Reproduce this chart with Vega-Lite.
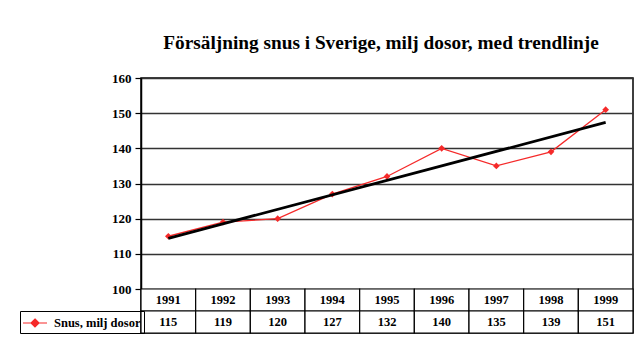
{
  "$schema": "https://vega.github.io/schema/vega-lite/v6.json",
  "width": 492,
  "height": 255,
  "autosize": {"type": "none"},
  "padding": {"left": 141, "top": 78, "right": 7, "bottom": 28},
  "background": "white",
  "title": {
    "text": "Försäljning snus i Sverige, milj dosor, med trendlinje",
    "font": "Liberation Serif",
    "fontSize": 19.3,
    "fontWeight": "bold",
    "color": "black",
    "anchor": "middle",
    "dx": -6,
    "offset": 19
  },
  "data": {
    "values": [
      {"year": 1991, "value": 115, "series": "Snus, milj dosor"},
      {"year": 1992, "value": 119, "series": "Snus, milj dosor"},
      {"year": 1993, "value": 120, "series": "Snus, milj dosor"},
      {"year": 1994, "value": 127, "series": "Snus, milj dosor"},
      {"year": 1995, "value": 132, "series": "Snus, milj dosor"},
      {"year": 1996, "value": 140, "series": "Snus, milj dosor"},
      {"year": 1997, "value": 135, "series": "Snus, milj dosor"},
      {"year": 1998, "value": 139, "series": "Snus, milj dosor"},
      {"year": 1999, "value": 151, "series": "Snus, milj dosor"}
    ]
  },
  "layer": [
    {
      "encoding": {
        "x": {"field": "year", "type": "quantitative", "scale": {"domain": [1990.5, 1999.5], "nice": false, "zero": false}, "axis": null},
        "y": {
          "field": "value", "type": "quantitative",
          "scale": {"domain": [100, 160], "range": [211, 0], "nice": false, "zero": false},
          "axis": {
            "values": [100, 110, 120, 130, 140, 150, 160],
            "title": null,
            "labelFont": "Liberation Serif", "labelFontSize": 13, "labelFontWeight": "bold", "labelColor": "black",
            "labelPadding": 4, "tickSize": 6, "tickColor": "black", "tickWidth": 1.2,
            "domainColor": "black", "domainWidth": 1.5,
            "grid": true, "gridColor": "#333", "gridWidth": 1.5
          }
        }
      },
      "layer": [
        {
          "mark": {"type": "line", "strokeWidth": 1.3, "point": {"shape": "diamond", "filled": true, "size": 45}},
          "encoding": {
            "color": {
              "field": "series", "type": "nominal",
              "scale": {"range": ["#f52a2a"]},
              "legend": {
                "orient": "none", "legendX": -121, "legendY": 233,
                "title": null, "padding": 3, "strokeColor": "black",
                "symbolType": "M-1.5,0L1.5,0M0,-0.5L0.5,0L0,0.5L-0.5,0Z",
                "symbolSize": 256, "symbolStrokeWidth": 1.2,
                "symbolFillColor": "#f52a2a", "symbolStrokeColor": "#f52a2a",
                "symbolOffset": 3, "labelOffset": 10,
                "labelFont": "Liberation Serif", "labelFontSize": 12.5, "labelFontWeight": "bold", "labelColor": "black"
              }
            }
          }
        },
        {
          "transform": [{"regression": "value", "on": "year"}],
          "mark": {"type": "line", "color": "black", "strokeWidth": 2.8}
        }
      ]
    },
    {
      "transform": [{"fold": ["year", "value"], "as": ["row", "cell"]}],
      "encoding": {
        "x": {"field": "year", "type": "ordinal", "scale": {"paddingInner": 0, "paddingOuter": 0}, "axis": null},
        "y": {"field": "row", "type": "nominal", "scale": {"domain": ["year", "value"], "range": [211, 255], "paddingInner": 0, "paddingOuter": 0}, "axis": null}
      },
      "layer": [
        {"mark": {"type": "rect", "fill": "white", "stroke": "black", "strokeWidth": 1.2}},
        {
          "mark": {"type": "text", "font": "Liberation Serif", "fontSize": 12.5, "fontWeight": "bold", "color": "black"},
          "encoding": {"text": {"field": "cell", "type": "nominal"}}
        }
      ]
    }
  ],
  "resolve": {"scale": {"x": "independent", "y": "independent"}},
  "config": {"view": {"stroke": "black", "strokeWidth": 1.5}}
}
